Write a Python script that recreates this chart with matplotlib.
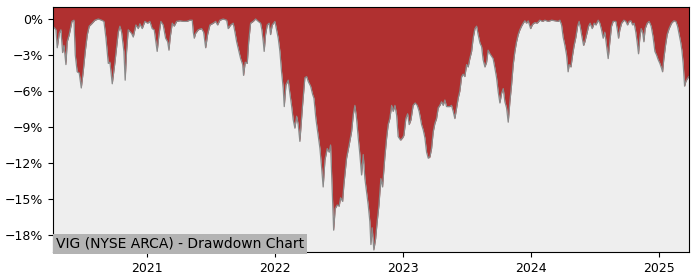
import matplotlib
matplotlib.use("Agg")
import matplotlib.pyplot as plt
import matplotlib.ticker as mticker
import numpy as np
import pandas as pd

# time as decimal years, drawdown in percent
years = [
    2020.266, 2020.289, 2020.299, 2020.315, 2020.328, 2020.341, 2020.352, 2020.367, 2020.377, 2020.393,
    2020.414, 2020.430, 2020.440, 2020.455, 2020.471, 2020.487, 2020.502, 2020.518, 2020.534, 2020.549,
    2020.568, 2020.594, 2020.620, 2020.646, 2020.664, 2020.680, 2020.698, 2020.711, 2020.729, 2020.750,
    2020.776, 2020.789, 2020.802, 2020.820, 2020.830, 2020.841, 2020.854, 2020.880, 2020.893, 2020.914,
    2020.932, 2020.945, 2020.963, 2020.984, 2021.005, 2021.023, 2021.041, 2021.057, 2021.070, 2021.080,
    2021.094, 2021.109, 2021.127, 2021.146, 2021.162, 2021.172, 2021.182, 2021.198, 2021.213, 2021.232,
    2021.258, 2021.284, 2021.310, 2021.336, 2021.354, 2021.362, 2021.370, 2021.380, 2021.401, 2021.427,
    2021.443, 2021.459, 2021.474, 2021.492, 2021.518, 2021.537, 2021.552, 2021.570, 2021.596, 2021.623,
    2021.635, 2021.654, 2021.674, 2021.688, 2021.701, 2021.719, 2021.732, 2021.748, 2021.755, 2021.768,
    2021.784, 2021.795, 2021.810, 2021.830, 2021.849, 2021.870, 2021.888, 2021.898, 2021.909, 2021.916,
    2021.927, 2021.940, 2021.955, 2021.966, 2021.979, 2022.000, 2022.013, 2022.026, 2022.039, 2022.052,
    2022.065, 2022.073, 2022.086, 2022.104, 2022.117, 2022.130, 2022.143, 2022.156, 2022.170, 2022.182,
    2022.195, 2022.216, 2022.234, 2022.248, 2022.260, 2022.279, 2022.295, 2022.305, 2022.320, 2022.338,
    2022.352, 2022.365, 2022.377, 2022.391, 2022.409, 2022.424, 2022.435, 2022.448, 2022.459, 2022.471,
    2022.487, 2022.502, 2022.513, 2022.529, 2022.539, 2022.560, 2022.580, 2022.599, 2022.612, 2022.625,
    2022.638, 2022.651, 2022.664, 2022.677, 2022.690, 2022.703, 2022.716, 2022.729, 2022.742, 2022.750,
    2022.760, 2022.773, 2022.787, 2022.799, 2022.813, 2022.828, 2022.841, 2022.859, 2022.873, 2022.885,
    2022.898, 2022.912, 2022.924, 2022.938, 2022.951, 2022.963, 2022.982, 2022.998, 2023.008, 2023.023,
    2023.037, 2023.049, 2023.063, 2023.080, 2023.096, 2023.112, 2023.127, 2023.146, 2023.159, 2023.172,
    2023.185, 2023.198, 2023.211, 2023.224, 2023.237, 2023.250, 2023.263, 2023.276, 2023.289, 2023.302,
    2023.315, 2023.328, 2023.341, 2023.367, 2023.380, 2023.393, 2023.406, 2023.420, 2023.432, 2023.445,
    2023.459, 2023.471, 2023.484, 2023.498, 2023.510, 2023.523, 2023.537, 2023.549, 2023.563, 2023.576,
    2023.588, 2023.602, 2023.615, 2023.627, 2023.641, 2023.654, 2023.666, 2023.680, 2023.693, 2023.705,
    2023.719, 2023.732, 2023.745, 2023.758, 2023.771, 2023.784, 2023.797, 2023.810, 2023.823, 2023.836,
    2023.849, 2023.862, 2023.875, 2023.888, 2023.901, 2023.914, 2023.927, 2023.940, 2023.953, 2023.966,
    2023.979, 2023.998, 2024.013, 2024.031, 2024.049, 2024.070, 2024.091, 2024.109, 2024.135, 2024.162,
    2024.188, 2024.213, 2024.227, 2024.240, 2024.252, 2024.266, 2024.279, 2024.291, 2024.299, 2024.313,
    2024.326, 2024.338, 2024.352, 2024.365, 2024.377, 2024.388, 2024.401, 2024.412, 2024.422, 2024.438,
    2024.451, 2024.463, 2024.479, 2024.495, 2024.508, 2024.526, 2024.539, 2024.552, 2024.565, 2024.578,
    2024.591, 2024.604, 2024.617, 2024.630, 2024.643, 2024.664, 2024.674, 2024.685, 2024.695, 2024.709,
    2024.727, 2024.742, 2024.755, 2024.768, 2024.781, 2024.795, 2024.807, 2024.820, 2024.830, 2024.841,
    2024.852, 2024.862, 2024.873, 2024.883, 2024.893, 2024.909, 2024.924, 2024.940, 2024.955, 2024.969,
    2024.982, 2024.995, 2025.008, 2025.021, 2025.029, 2025.039, 2025.052, 2025.065, 2025.080, 2025.099,
    2025.117, 2025.133, 2025.146, 2025.159, 2025.170, 2025.180, 2025.190, 2025.201, 2025.211, 2025.221,
    2025.234,
]
drawdown = [
    -0.6, -0.9, -2.4, -1.2, -0.9, -2.8, -2.2, -3.8, -1.9, -1.3,
    -0.2, -0.1, -3.0, -4.4, -4.5, -5.75, -4.4, -2.7, -1.3, -0.6,
    -0.4, -0.1, 0.0, -0.1, -0.2, -1.6, -3.7, -3.6, -5.4, -3.6,
    -1.1, -0.6, -1.1, -2.7, -5.1, -2.7, -0.9, -1.2, -1.5, -0.5,
    -0.8, -0.4, -0.8, -0.2, -0.35, -0.2, -0.8, -0.9, -1.9, -2.7,
    -1.3, -0.2, -0.5, -1.6, -1.9, -2.6, -1.5, -0.35, -0.6, -0.2,
    -0.15, -0.2, -0.2, -0.1, -0.1, -1.1, -1.6, -1.2, -0.9, -0.8,
    -1.1, -2.4, -1.3, -0.5, -0.35, -0.2, -0.5, -0.1, 0.0, -0.1,
    -0.8, -0.5, -0.35, -1.1, -1.9, -2.7, -3.3, -3.8, -4.7, -3.6,
    -3.7, -1.9, -0.35, -0.2, 0.0, -0.2, -0.35, -0.9, -1.9, -2.7,
    -1.3, -0.5, -0.35, -1.3, -0.5, -0.2, -0.9, -1.6, -2.7, -4.4,
    -5.8, -7.3, -5.5, -5.1, -6.2, -7.2, -8.4, -9.1, -8.1, -8.8,
    -10.2, -7.2, -4.9, -4.8, -5.2, -5.6, -6.3, -6.6, -8.3, -9.7,
    -10.8, -12.4, -14.0, -11.75, -10.8, -11.1, -10.5, -14.4, -17.6, -15.8,
    -15.5, -15.6, -14.9, -15.2, -13.8, -11.6, -10.5, -9.4, -8.0, -7.2,
    -8.3, -9.9, -11.3, -13.0, -11.3, -13.3, -14.4, -15.5, -16.9, -18.8,
    -17.4, -19.25, -18.3, -16.9, -15.5, -13.3, -14.0, -11.5, -9.9, -8.8,
    -8.3, -7.2, -7.7, -7.2, -8.0, -9.8, -10.1, -9.9, -9.7, -8.3,
    -7.9, -8.8, -8.4, -7.2, -7.0, -7.2, -7.7, -8.8, -9.25, -9.9,
    -11.1, -11.6, -11.5, -10.8, -9.4, -8.7, -8.3, -7.4, -7.2, -6.9,
    -7.2, -6.75, -7.3, -7.3, -7.2, -7.7, -8.3, -7.4, -6.6, -6.0,
    -4.8, -4.6, -4.8, -3.8, -4.0, -3.3, -2.7, -1.6, -0.8, -0.6,
    -1.3, -2.0, -2.3, -3.4, -4.0, -3.6, -2.6, -2.9, -3.1, -3.3,
    -4.1, -4.9, -6.1, -7.0, -6.2, -5.8, -6.9, -7.4, -8.6, -6.9,
    -5.5, -3.8, -2.7, -1.9, -1.3, -0.9, -0.6, -0.35, -0.15, -0.35,
    -0.15, -0.8, -0.45, -0.3, -0.35, -0.1, -0.2, -0.1, -0.2, -0.1,
    -0.15, -0.2, -0.1, -0.5, -1.5, -2.2, -3.0, -4.4, -3.8, -4.0,
    -3.0, -2.2, -1.5, -0.6, -0.2, -0.8, -1.6, -2.2, -1.9, -1.2,
    -0.6, -0.35, -0.8, -0.35, -0.5, -0.1, -0.35, -0.9, -1.6, -1.1,
    -2.2, -3.3, -1.9, -0.6, -0.2, -0.2, -0.8, -1.6, -0.9, -0.35,
    -0.1, -0.2, -0.5, -0.2, -0.15, -0.5, -0.35, -1.1, -1.9, -2.9,
    -1.5, -0.8, -1.1, -1.9, -0.8, -0.35, -0.2, -0.6, -1.5, -2.7,
    -3.0, -3.4, -3.7, -4.1, -4.4, -3.3, -2.2, -1.3, -0.8, -0.35,
    -0.15, -0.2, -0.6, -1.3, -1.9, -2.6, -3.7, -5.6, -5.2, -5.0,
    -4.8,
]
y_ticks = [0, -3, -6, -9, -12, -15, -18]
title = "VIG (NYSE ARCA) - Drawdown Chart"

years = np.array(years)
dd = np.array(drawdown)
base = pd.Timestamp("2021-01-01")
dates = base + pd.to_timedelta((years - 2021) * 365.25, unit="D")

fig = plt.figure(figsize=(7, 2.8), dpi=100)
ax = fig.add_axes([0.0757, 0.1, 0.9083, 0.875])
ax.set_facecolor("#eeeeee")

top = 1.0
ax.fill_between(dates, dd, top, color="#b03030", linewidth=0)
ax.plot(dates, dd, color="#8a8a8a", linewidth=0.9)

ax.set_xlim(dates[0], dates[-1])
ax.set_ylim(-19.42, top)
ax.set_yticks(y_ticks)
ax.yaxis.set_major_formatter(mticker.FuncFormatter(lambda v, p: f"{v:.0f}%".replace("-", "\u2212")))
ax.xaxis.set_major_locator(matplotlib.dates.YearLocator())
ax.xaxis.set_major_formatter(matplotlib.dates.DateFormatter("%Y"))
ax.tick_params(labelsize=9)

ax.text(0.005, 0.005, title, transform=ax.transAxes, fontsize=10,
        ha="left", va="bottom",
        bbox=dict(facecolor="#b3b3b3", edgecolor="none", pad=2))

fig.savefig("out.png", dpi=100)
